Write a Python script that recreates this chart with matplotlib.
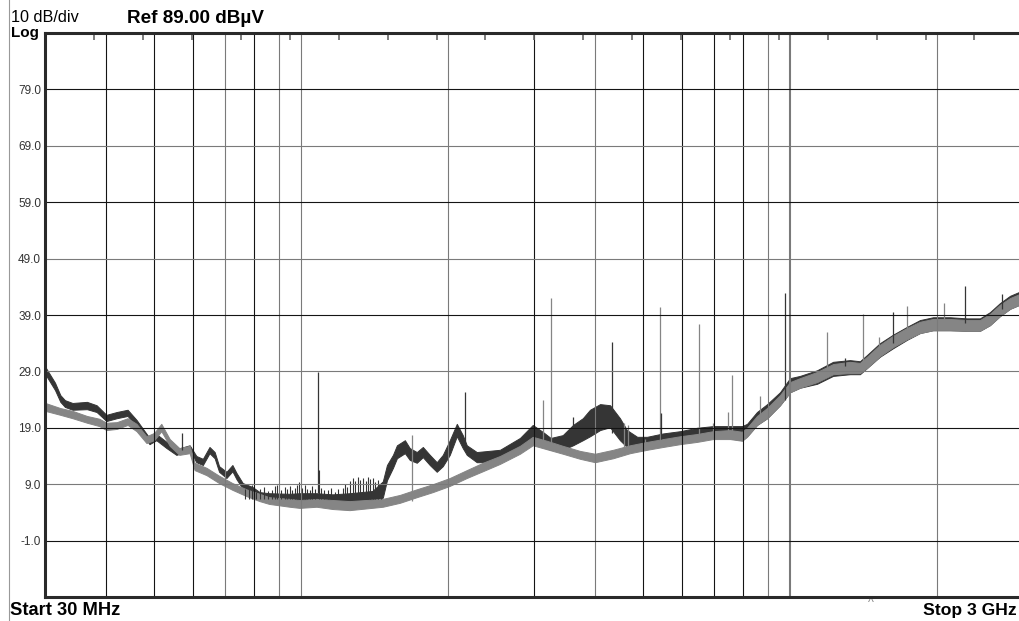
import numpy as np
import matplotlib
matplotlib.use("Agg")
import matplotlib.pyplot as plt
from matplotlib.lines import Line2D
from matplotlib.ticker import NullLocator

plt.rcParams["font.family"] = ["Liberation Sans", "DejaVu Sans"]

# ---- trace data (MHz, dBuV) ----
# max-hold trace (dark) as a lower/upper band
dark_f = [30.0, 31.4, 32.2, 32.9, 34.1, 36.5, 38.2, 40.0, 42.0, 44.2, 46.1, 49.0, 50.6,
          53.1, 55.6, 59.2, 61.1, 63.0, 65.0, 66.6, 68.0, 70.4, 72.4, 73.8, 76.0, 79.6,
          82.3, 86.1, 94.8, 99.3, 107.6, 116.0, 125.7, 140.0, 147.0, 149.9, 154.2, 157.1,
          163.1, 166.9, 172.5, 177.5, 183.4, 189.5, 195.0, 201.5, 208.3, 214.2, 218.3,
          228.8, 255.2, 280.4, 297.8, 312.0, 324.0, 343.0, 360.0, 377.0, 390.0, 408.9,
          428.6, 449.0, 464.0, 487.0, 510.0, 550.0, 596.0, 645.0, 696.0, 747.0, 798.0,
          817.0, 856.0, 898.0, 954.0, 1000.0, 1048.0, 1136.0, 1225.0, 1326.0, 1390.0,
          1437.0, 1527.0, 1624.0, 1735.0, 1844.0, 1961.0, 2125.0, 2302.0, 2446.0, 2564.0,
          2687.0, 2818.0, 3000.0]
dark_hi = [29.8, 27.0, 24.8, 23.9, 23.4, 23.6, 23.0, 21.3, 21.8, 22.2, 20.4, 17.2, 17.9,
           16.5, 15.2, 15.9, 14.0, 13.5, 15.6, 14.7, 12.2, 11.2, 12.4, 11.0, 9.2, 8.5,
           7.6, 7.4, 7.3, 7.4, 7.4, 7.2, 7.4, 7.8, 9.5, 12.4, 14.2, 15.9,
           16.8, 15.4, 14.7, 15.6, 14.2, 12.9, 14.2, 16.8, 19.7, 17.7, 15.9,
           14.7, 15.1, 17.2, 19.5, 18.3, 17.2, 17.7, 19.5, 20.7, 22.2, 23.2,
           23.0, 20.7, 18.6, 17.4, 17.4, 18.0, 18.4, 19.0, 19.3, 19.3, 19.3,
           19.7, 21.8, 23.2, 25.3, 27.8, 28.2, 29.2, 30.7, 31.0, 30.8,
           31.9, 34.0, 35.5, 36.9, 38.1, 38.6, 38.6, 38.4, 38.4, 39.5,
           41.1, 42.4, 43.4]
dark_lo = [28.5, 25.7, 23.6, 22.7, 22.2, 22.3, 21.8, 20.2, 20.7, 21.1, 19.3, 16.1, 16.8,
           15.4, 14.2, 14.9, 12.9, 12.4, 14.5, 13.6, 11.2, 10.1, 11.3, 9.9, 8.2, 7.4,
           6.4, 6.3, 6.0, 6.0, 6.0, 5.8, 6.0, 6.2, 6.6, 9.7, 11.9, 13.6,
           14.5, 13.3, 12.8, 13.8, 12.4, 11.2, 12.2, 14.2, 17.5, 15.4, 14.2,
           12.9, 12.9, 14.7, 16.8, 15.6, 15.1, 15.1, 15.9, 16.8, 17.5, 18.6,
           19.1, 16.8, 15.6, 15.1, 15.4, 16.2, 16.5, 17.2, 17.4, 17.2, 16.8,
           17.5, 19.5, 20.7, 23.0, 25.3, 26.1, 26.8, 28.2, 28.5, 28.5,
           29.6, 31.6, 33.1, 34.6, 35.8, 36.3, 36.3, 36.2, 36.2, 37.2,
           38.8, 40.1, 41.1]

# average trace (light)
light_f = [30.0, 32.2, 34.1, 36.5, 38.7, 40.0, 42.0, 44.2, 46.1, 48.3, 50.1, 51.8, 53.9,
           56.4, 59.2, 60.6, 64.1, 68.0, 72.4, 77.3, 82.3, 86.1, 94.8, 99.3, 107.6,
           116.0, 125.7, 147.0, 159.3, 172.5, 186.0, 201.5, 218.3, 235.4, 255.2, 280.4,
           297.8, 318.2, 343.1, 372.1, 399.3, 434.7, 470.9, 510.1, 550.0, 595.8, 645.5,
           695.9, 754.0, 797.9, 816.8, 856.3, 897.6, 954.1, 1000.0, 1048.0, 1136.0,
           1225.0, 1326.0, 1390.0, 1437.0, 1527.0, 1624.0, 1735.0, 1844.0, 1961.0,
           2125.0, 2302.0, 2446.0, 2564.0, 2687.0, 2818.0, 3000.0]
light_hi = [23.4, 22.5, 22.0, 21.1, 20.6, 19.9, 20.0, 20.7, 19.7, 17.5, 18.1, 19.7, 17.0,
            15.4, 15.8, 12.8, 11.9, 10.5, 9.2, 8.1, 7.3, 6.7, 6.4, 6.2, 6.4,
            6.2, 6.0, 6.4, 7.1, 8.1, 9.0, 10.1, 11.5, 12.8, 14.0, 15.8,
            17.4, 16.7, 15.8, 14.9, 14.4, 15.1, 15.9, 16.5, 17.0, 17.5, 17.9,
            18.4, 18.6, 18.3, 19.0, 21.1, 22.5, 24.8, 27.1, 27.8, 28.9,
            30.3, 30.7, 30.5, 31.6, 33.7, 35.3, 36.7, 37.8, 38.3,
            38.3, 38.1, 38.1, 39.2, 40.8, 42.0, 43.0]
light_lo = [22.0, 21.3, 20.7, 19.9, 19.3, 18.6, 18.8, 19.5, 18.4, 16.3, 16.8, 18.4, 15.8,
            14.2, 14.5, 11.5, 10.6, 9.2, 8.0, 6.9, 6.0, 5.5, 5.0, 4.8, 5.0,
            4.6, 4.4, 5.0, 5.7, 6.7, 7.6, 8.7, 10.1, 11.3, 12.6, 14.4,
            15.9, 15.2, 14.4, 13.5, 12.9, 13.6, 14.5, 15.1, 15.6, 16.1, 16.5,
            17.0, 17.0, 16.7, 17.4, 19.5, 20.7, 23.0, 25.3, 26.1, 27.1,
            28.5, 28.7, 28.7, 29.6, 31.7, 33.3, 34.7, 35.8, 36.3,
            36.3, 36.2, 36.2, 37.2, 38.8, 40.1, 41.1]

# discrete emissions: frequency, foot level, peak level
dark_spike_f = [57.2, 108.1, 216.3, 360.0, 432.7, 545.0, 976.7, 1296.0, 1624.0, 2281.0, 2713.0]
dark_spike_base = [15.0, 7.5, 16.0, 16.0, 18.0, 17.0, 24.0, 30.0, 34.0, 37.5, 40.0]
dark_spike_top = [18.1, 28.9, 25.3, 21.0, 34.2, 21.6, 42.9, 31.4, 39.5, 44.1, 42.7]

light_spike_f = [168.5, 312.3, 324.2, 457.8, 466.5, 505.3, 542.2, 651.6, 695.9, 747.0,
                 761.2, 868.5, 1190.0, 1410.0, 1520.0, 1735.0, 2066.0]
light_spike_base = [6.0, 16.0, 16.0, 15.0, 15.0, 15.5, 16.0, 17.0, 18.0, 18.0,
                    18.0, 20.0, 29.0, 30.0, 32.0, 36.0, 37.5]
light_spike_top = [17.7, 23.9, 42.0, 19.9, 19.5, 17.0, 40.4, 37.4, 19.9, 21.8,
                   28.4, 24.6, 36.0, 39.2, 35.1, 40.6, 41.1]

# broadband "grass" between 77 and 146 MHz on the max-hold trace
grass_f = [77.0, 78.4, 79.4, 80.3, 81.1, 82.6, 84.1, 85.6, 87.4, 88.4,
           89.5, 91.0, 92.6, 93.7, 94.8, 96.0, 97.0, 98.2, 99.3, 100.5,
           101.7, 103.0, 104.2, 105.5, 106.8, 108.6, 110.0, 111.5, 113.3, 115.0,
           117.1, 119.2, 121.6, 123.0, 124.2, 126.0, 127.7, 129.2, 130.8, 132.3,
           133.9, 135.5, 137.1, 138.7, 140.4, 142.0, 143.7, 145.5]
grass_top = [8.2, 8.6, 8.9, 8.0, 7.6, 8.2, 8.5, 7.8, 8.0, 8.6,
             8.9, 8.0, 8.5, 8.2, 8.7, 7.9, 8.3, 8.8, 9.4, 8.4,
             8.9, 8.1, 8.0, 8.6, 8.2, 11.5, 8.3, 7.9, 8.0, 8.4,
             7.6, 8.2, 8.3, 9.0, 8.5, 9.6, 10.1, 9.5, 10.3, 9.8,
             10.1, 9.6, 10.3, 9.9, 10.1, 9.4, 9.7, 9.2]
grass_base = 6.3

# graticule
freq_grid = [40, 50, 60, 70, 80, 90, 100, 200, 300, 400, 500, 600, 700, 800, 900, 1000, 2000]
level_grid = [79, 69, 59, 49, 39, 29, 19, 9, -1]

DARK = "#353535"
LIGHT = "#858585"
GRID_K = "#141414"
GRID_G = "#7a7a7a"
freq_grid_col = [GRID_K, GRID_K, GRID_K, GRID_G, GRID_K, GRID_G, GRID_G, GRID_G, GRID_K,
                 GRID_G, GRID_K, GRID_K, GRID_K, GRID_K, GRID_G, GRID_G, GRID_G]

W, H = 1019, 621
fig = plt.figure(figsize=(W / 100, H / 100), dpi=100)
fig.patch.set_facecolor("white")
ax = fig.add_axes([45.3 / W, 24 / H, 978 / W, 564 / H])
ax.set_xscale("log")
ax.set_xlim(30, 3000)
ax.set_ylim(-11, 89)
ax.xaxis.set_minor_locator(NullLocator())
ax.set_xticks([])

# traces
ax.fill_between(dark_f, dark_lo, dark_hi, color=DARK, lw=0.7, zorder=2)
ax.fill_between(light_f, light_lo, light_hi, color=LIGHT, lw=0.7, zorder=3)
ax.vlines(grass_f, grass_base, grass_top, colors=DARK, lw=0.8, zorder=4)
ax.vlines(light_spike_f, light_spike_base, light_spike_top, colors=LIGHT, lw=0.9, zorder=4)
ax.vlines(dark_spike_f, dark_spike_base, dark_spike_top, colors=DARK, lw=0.9, zorder=4)

# graticule on top of traces
for fq, c in zip(freq_grid, freq_grid_col):
    ax.axvline(fq, color=c, lw=1.5 if fq == 1000 else 0.8, zorder=5)
for i, lv in enumerate(level_grid):
    ax.axhline(lv, color=GRID_K if i % 2 == 0 else GRID_G, lw=0.8, zorder=5)

# division ticks along the top edge
ax.vlines(np.arange(1, 20) / 20, 1 - 7 / 564, 1, transform=ax.transAxes,
          colors="#666666", lw=1.2, zorder=6)

ax.set_yticks(level_grid)
ax.set_yticklabels([f"{v:.1f}" for v in level_grid])
ax.tick_params(axis="y", length=0, pad=3, labelsize=8.5, labelcolor="#333333")
for side in ["left", "top", "bottom", "right"]:
    ax.spines[side].set_color("#2a2a2a")
    ax.spines[side].set_linewidth(2.2)
    ax.spines[side].set_zorder(7)

# marker at bottom edge
ax.text(1464, -11, "^", ha="center", va="top", fontsize=9, color="#888888",
        clip_on=False)

# header / footer annotations
fig.text(11 / W, 1 - 22 / H, "10 dB/div", fontsize=11.7, va="baseline", ha="left")
fig.text(11 / W, 1 - 37 / H, "Log", fontsize=11, fontweight="bold", va="baseline", ha="left")
fig.text(127 / W, 1 - 23 / H, "Ref 89.00 dB\u00b5V", fontsize=13.6, fontweight="bold",
         va="baseline", ha="left")
fig.text(10 / W, 1 - 615 / H, "Start 30 MHz", fontsize=13.2, fontweight="bold",
         va="baseline", ha="left")
fig.text(1017 / W, 1 - 615 / H, "Stop 3 GHz", fontsize=12.6, fontweight="bold",
         va="baseline", ha="right")

# thin frame line at the far left
fig.add_artist(Line2D([8.5 / W, 8.5 / W], [0, 1], transform=fig.transFigure,
                      color="#999999", lw=0.8))

fig.savefig("out.png", dpi=100)
